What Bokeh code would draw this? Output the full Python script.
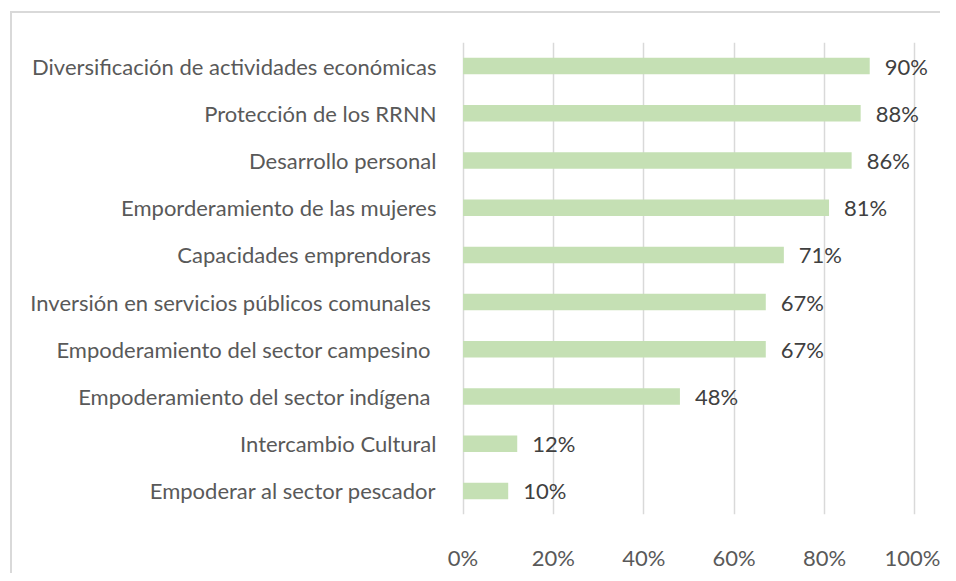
from bokeh.plotting import figure
from bokeh.models import (ColumnDataSource, FactorRange, Range1d, FixedTicker,
                          NumeralTickFormatter, LabelSet)
from bokeh.core.properties import value
from bokeh.embed import file_html
from bokeh.resources import INLINE

categories = [
    "Diversificación de actividades económicas",
    "Protección de los RRNN",
    "Desarrollo personal",
    "Emporderamiento de las mujeres",
    "Capacidades emprendoras ",
    "Inversión en servicios públicos comunales ",
    "Empoderamiento del sector campesino ",
    "Empoderamiento del sector indígena ",
    "Intercambio Cultural",
    "Empoderar al sector pescador",
]
values = [0.90, 0.88, 0.86, 0.81, 0.71, 0.67, 0.67, 0.48, 0.12, 0.10]
value_labels = ["90%", "88%", "86%", "81%", "71%", "67%", "67%", "48%", "12%", "10%"]
x_ticks = [0, 0.2, 0.4, 0.6, 0.8, 1.0]

FONT = "Lato"
FS = "22px"
TEXT_COLOR = "#595959"
BORDER = "#D9D9D9"

src = ColumnDataSource(dict(cat=categories, val=values, lab=value_labels))

p = figure(
    width=940, height=573,
    y_range=FactorRange(factors=list(reversed(categories))),
    x_range=Range1d(-0.01, 1.05),
    output_backend="svg", toolbar_location=None,
    min_border_left=458, min_border_right=3,
    min_border_top=42, min_border_bottom=44,
)
p.outline_line_color = None
p.background_fill_color = "white"
p.border_fill_alpha = 0
# chart-area border (light gray, top and left, as in the reference)
p.styles = {
    "background": (
        f"linear-gradient({BORDER},{BORDER}) 10px 11px / calc(100% - 10px) 2px no-repeat, "
        f"linear-gradient({BORDER},{BORDER}) 10px 11px / 2px calc(100% - 11px) no-repeat, "
        "white"
    )
}

p.hbar(y="cat", right="val", left=0, height=0.35, source=src,
       fill_color="#C5E0B4", line_color=None)

labels = LabelSet(x="val", y="cat", text="lab", source=src, x_offset=15,
                  text_baseline="middle", text_align="left",
                  text_font=value(FONT), text_font_size=FS, text_color="#404040")
p.add_layout(labels)

p.xaxis.ticker = FixedTicker(ticks=x_ticks)
p.xaxis.formatter = NumeralTickFormatter(format="0%")
p.xaxis.axis_line_color = None
p.xaxis.major_tick_line_color = None
p.xaxis.minor_tick_line_color = None
p.xaxis.major_label_standoff = 23
p.xaxis.major_label_text_font = FONT
p.xaxis.major_label_text_font_size = FS
p.xaxis.major_label_text_color = TEXT_COLOR

p.yaxis.axis_line_color = None
p.yaxis.major_tick_line_color = None
p.yaxis.minor_tick_line_color = None
p.yaxis.major_label_standoff = 16
p.yaxis.major_label_text_font = FONT
p.yaxis.major_label_text_font_size = FS
p.yaxis.major_label_text_color = TEXT_COLOR

p.xgrid.ticker = FixedTicker(ticks=x_ticks)
p.xgrid.grid_line_color = BORDER
p.xgrid.grid_line_width = 1.5
p.ygrid.grid_line_color = None

open("out.html", "w").write(file_html(p, INLINE))
